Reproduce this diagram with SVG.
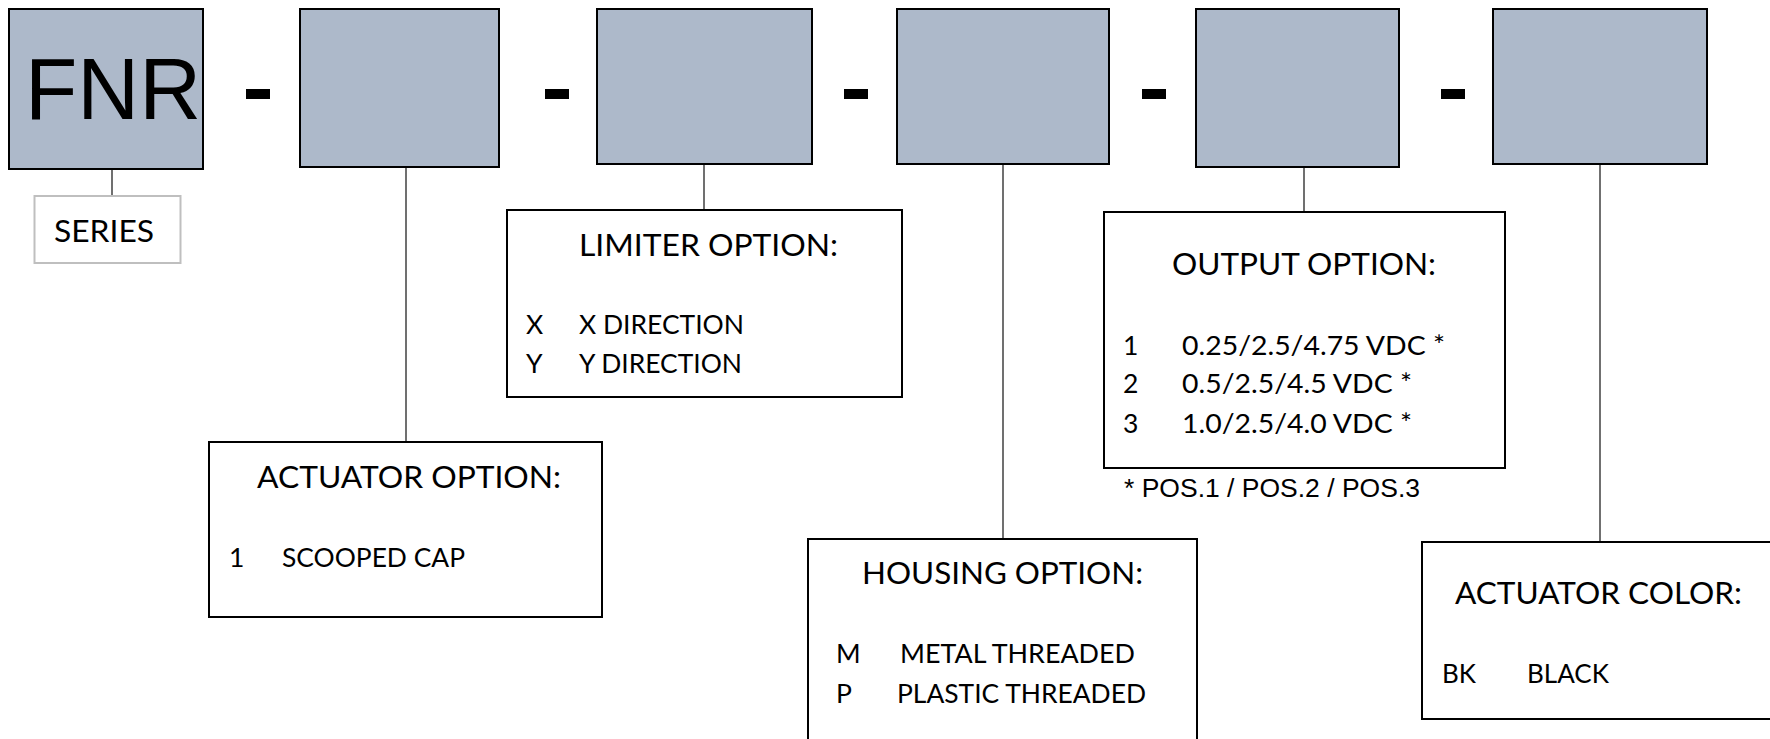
<svg xmlns="http://www.w3.org/2000/svg" width="1770" height="739" viewBox="0 0 1770 739">
<style>
.code{fill:#ADB9CA;stroke:#000;stroke-width:2}
.opt{fill:#fff;stroke:#000;stroke-width:2}
.ser{fill:#fff;stroke:#BFBFBF;stroke-width:2}
.dash{fill:#000}
.conn line{stroke:#404040;stroke-width:1.5}
.h{font-family:Lato,"Open Sans",sans-serif;font-size:31.5px;fill:#000}
.i{font-family:Lato,"Open Sans",sans-serif;font-size:26.5px;fill:#000}
.a{font-family:"Liberation Sans",Arial,sans-serif;fill:#000}
</style>
<rect width="1770" height="739" fill="#fff"/>
<g id="connectors" class="conn">
<line x1="112" y1="169" x2="112" y2="196"/>
<line x1="406" y1="167" x2="406" y2="442"/>
<line x1="704" y1="164" x2="704" y2="210"/>
<line x1="1003" y1="164" x2="1003" y2="539"/>
<line x1="1304" y1="167" x2="1304" y2="212"/>
<line x1="1600" y1="164" x2="1600" y2="542"/>
</g>
<g id="dashes">
<rect class="dash" x="246" y="89" width="24" height="10"/>
<rect class="dash" x="545" y="89" width="24" height="10"/>
<rect class="dash" x="844" y="89" width="24" height="10"/>
<rect class="dash" x="1142" y="89" width="24" height="10"/>
<rect class="dash" x="1441" y="89" width="24" height="10"/>
</g>
<g id="box-fnr">
<rect class="code" x="9" y="9" width="194" height="160"/>
<text class="a" x="25" y="119" font-size="87" textLength="176" lengthAdjust="spacingAndGlyphs">FNR</text>
</g>
<g id="box-actuator"><rect class="code" x="300" y="9" width="199" height="158"/></g>
<g id="box-limiter"><rect class="code" x="597" y="9" width="215" height="155"/></g>
<g id="box-housing"><rect class="code" x="897" y="9" width="212" height="155"/></g>
<g id="box-output"><rect class="code" x="1196" y="9" width="203" height="158"/></g>
<g id="box-color"><rect class="code" x="1493" y="9" width="214" height="155"/></g>
<g id="series">
<rect class="ser" x="34.5" y="196" width="146" height="67"/>
<text class="h" x="54" y="242" textLength="100" lengthAdjust="spacingAndGlyphs">SERIES</text>
</g>
<g id="limiter-option">
<rect class="opt" x="507" y="210" width="395" height="187"/>
<text class="h" x="579" y="256" textLength="259" lengthAdjust="spacingAndGlyphs">LIMITER OPTION:</text>
<text class="i" x="526" y="334" font-size="27">X</text>
<text class="i" x="579" y="334" font-size="27" textLength="165" lengthAdjust="spacingAndGlyphs">X DIRECTION</text>
<text class="i" x="526" y="373" font-size="27">Y</text>
<text class="i" x="579" y="373" font-size="27" textLength="163" lengthAdjust="spacingAndGlyphs">Y DIRECTION</text>
</g>
<g id="actuator-option">
<rect class="opt" x="209" y="442" width="393" height="175"/>
<text class="h" x="257" y="488" textLength="304" lengthAdjust="spacingAndGlyphs">ACTUATOR OPTION:</text>
<text class="i" x="229" y="567" font-size="25.5">1</text>
<text class="i" x="282" y="567" font-size="25.5" textLength="183" lengthAdjust="spacingAndGlyphs">SCOOPED CAP</text>
</g>
<g id="housing-option">
<rect class="opt" x="808" y="539" width="389" height="220"/>
<text class="h" x="862" y="584" textLength="281" lengthAdjust="spacingAndGlyphs">HOUSING OPTION:</text>
<text class="i" x="836" y="663" font-size="25">M</text>
<text class="i" x="900" y="663" font-size="25" textLength="235" lengthAdjust="spacingAndGlyphs">METAL THREADED</text>
<text class="i" x="836" y="703" font-size="25">P</text>
<text class="i" x="897" y="703" font-size="25" textLength="249" lengthAdjust="spacingAndGlyphs">PLASTIC THREADED</text>
</g>
<g id="output-option">
<rect class="opt" x="1104" y="212" width="401" height="256"/>
<text class="h" x="1172" y="275" textLength="264" lengthAdjust="spacingAndGlyphs">OUTPUT OPTION:</text>
<text class="i" x="1123" y="355" font-size="28">1</text>
<text class="i" x="1182" y="355" font-size="28" textLength="263" lengthAdjust="spacingAndGlyphs">0.25/2.5/4.75 VDC *</text>
<text class="i" x="1123" y="393" font-size="28">2</text>
<text class="i" x="1182" y="393" font-size="28" textLength="230" lengthAdjust="spacingAndGlyphs">0.5/2.5/4.5 VDC *</text>
<text class="i" x="1123" y="433" font-size="28">3</text>
<text class="i" x="1182" y="433" font-size="28" textLength="230" lengthAdjust="spacingAndGlyphs">1.0/2.5/4.0 VDC *</text>
<text class="a" x="1124" y="497" font-size="25.5" textLength="296" lengthAdjust="spacingAndGlyphs">* POS.1 / POS.2 / POS.3</text>
</g>
<g id="actuator-color">
<rect class="opt" x="1422" y="542" width="360" height="177"/>
<text class="h" x="1455" y="604" textLength="287" lengthAdjust="spacingAndGlyphs">ACTUATOR COLOR:</text>
<text class="i" x="1442" y="683" font-size="25.5" textLength="34" lengthAdjust="spacingAndGlyphs">BK</text>
<text class="i" x="1527" y="683" font-size="25.5" textLength="82" lengthAdjust="spacingAndGlyphs">BLACK</text>
</g>
</svg>
